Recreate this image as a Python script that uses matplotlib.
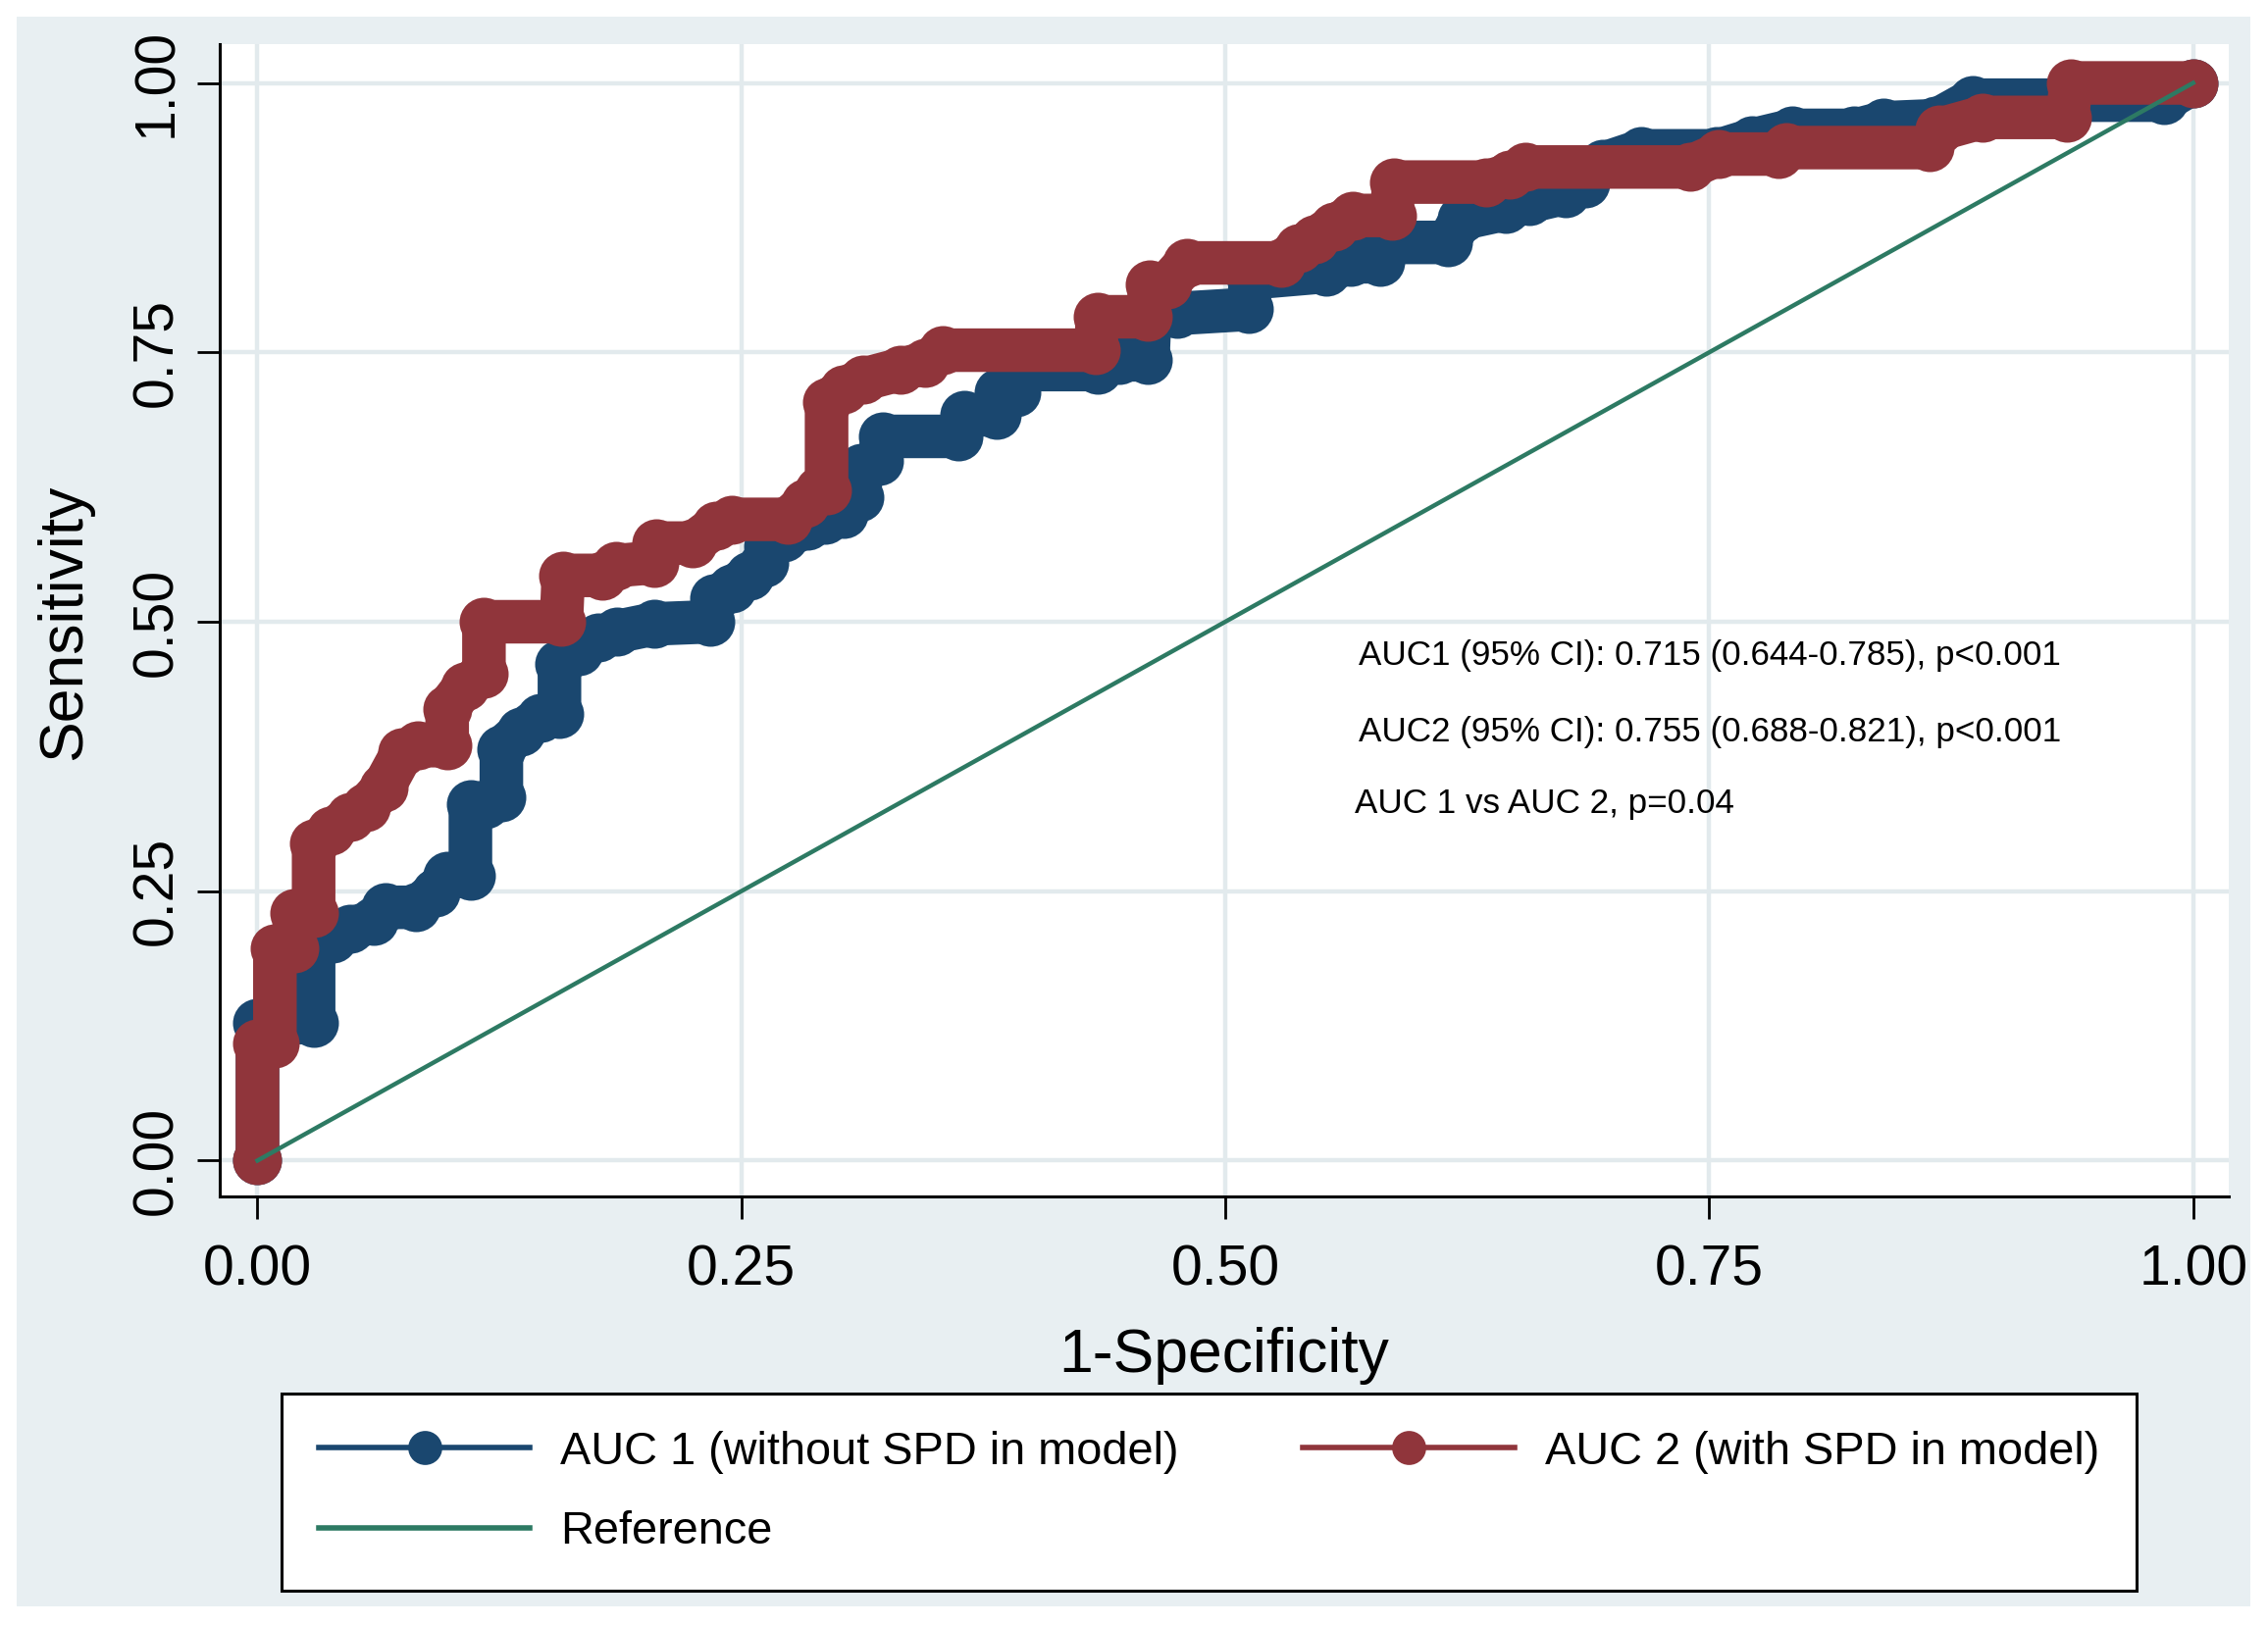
import matplotlib
matplotlib.use("Agg")
import matplotlib.pyplot as plt
from matplotlib.lines import Line2D
from matplotlib.patches import Rectangle

plt.rcParams['font.family'] = ['Liberation Sans', 'DejaVu Sans']

# ROC points (1-specificity, sensitivity)
auc1_fpr = [0.0, 0.0, 0.029, 0.029, 0.039, 0.048, 0.060, 0.066, 0.082, 0.092,
            0.098, 0.110, 0.110, 0.118, 0.126, 0.126, 0.136, 0.146, 0.156, 0.156,
            0.166, 0.176, 0.186, 0.205, 0.234, 0.236, 0.245, 0.254, 0.262, 0.264,
            0.272, 0.284, 0.293, 0.303, 0.311, 0.312, 0.321, 0.323, 0.362, 0.365,
            0.382, 0.383, 0.392, 0.393, 0.434, 0.445, 0.460, 0.461, 0.475, 0.512,
            0.513, 0.552, 0.565, 0.580, 0.581, 0.615, 0.622, 0.645, 0.657, 0.676,
            0.686, 0.695, 0.715, 0.754, 0.772, 0.793, 0.825, 0.840, 0.867, 0.886,
            0.985, 1.0]
auc1_tpr = [0.0, 0.128, 0.128, 0.206, 0.206, 0.215, 0.222, 0.235, 0.235, 0.249,
            0.264, 0.264, 0.331, 0.331, 0.337, 0.382, 0.398, 0.411, 0.414, 0.461,
            0.473, 0.485, 0.491, 0.498, 0.500, 0.522, 0.531, 0.543, 0.555, 0.570,
            0.578, 0.589, 0.595, 0.600, 0.616, 0.643, 0.649, 0.672, 0.672, 0.692,
            0.692, 0.713, 0.713, 0.734, 0.734, 0.743, 0.743, 0.786, 0.786, 0.790,
            0.819, 0.825, 0.834, 0.834, 0.852, 0.852, 0.874, 0.883, 0.890, 0.898,
            0.907, 0.925, 0.937, 0.937, 0.947, 0.956, 0.956, 0.963, 0.965, 0.984,
            0.984, 1.0]

auc2_fpr = [0.0, 0.0, 0.009, 0.009, 0.019, 0.019, 0.029, 0.029, 0.038, 0.048,
            0.056, 0.065, 0.075, 0.083, 0.098, 0.098, 0.107, 0.117, 0.117, 0.157,
            0.158, 0.178, 0.185, 0.205, 0.206, 0.225, 0.237, 0.245, 0.274, 0.283,
            0.290, 0.294, 0.294, 0.303, 0.313, 0.332, 0.345, 0.354, 0.433, 0.434,
            0.460, 0.461, 0.470, 0.480, 0.529, 0.538, 0.546, 0.556, 0.566, 0.586,
            0.587, 0.635, 0.647, 0.655, 0.740, 0.755, 0.786, 0.790, 0.864, 0.869,
            0.891, 0.935, 0.937, 1.0]
auc2_tpr = [0.0, 0.109, 0.109, 0.197, 0.197, 0.230, 0.230, 0.294, 0.306, 0.319,
            0.328, 0.346, 0.379, 0.385, 0.385, 0.419, 0.440, 0.452, 0.500, 0.500,
            0.543, 0.543, 0.552, 0.555, 0.573, 0.573, 0.589, 0.595, 0.595, 0.610,
            0.622, 0.622, 0.704, 0.716, 0.725, 0.734, 0.740, 0.752, 0.752, 0.783,
            0.783, 0.813, 0.813, 0.833, 0.833, 0.847, 0.855, 0.867, 0.877, 0.877,
            0.908, 0.908, 0.915, 0.922, 0.922, 0.934, 0.934, 0.940, 0.940, 0.957,
            0.968, 0.968, 1.0, 1.0]

ref_x = [0.0, 1.0]
ref_y = [0.0, 1.0]

ticks = [0.0, 0.25, 0.5, 0.75, 1.0]
tick_labels = ['0.00', '0.25', '0.50', '0.75', '1.00']

labels = ['AUC 1 (without SPD in model)', 'AUC 2 (with SPD in model)', 'Reference']
notes = ['AUC1 (95% CI): 0.715 (0.644-0.785), p<0.001',
         'AUC2 (95% CI): 0.755 (0.688-0.821), p<0.001',
         'AUC 1 vs AUC 2, p=0.04']

navy = '#1a476f'
maroon = '#90353b'
green = '#2d7a63'
bg = '#e8eff2'
gridc = '#e2eaed'

W, H = 2312, 1657
fig = plt.figure(figsize=(W / 200, H / 200), dpi=200, facecolor='white')
fig.patches.append(Rectangle((17 / W, 1 - 1638 / H), (2294 - 17) / W, (1638 - 17) / H,
                             transform=fig.transFigure, facecolor=bg,
                             edgecolor='none', zorder=-10))

ax = fig.add_axes([224 / W, 1 - 1220 / H, (2272 - 224) / W, (1220 - 45) / H])
ax.set_facecolor('white')
ax.set_xlim(-0.0195, 1.0184)
ax.set_ylim(-0.0333, 1.036)

# thick round-jointed path plus markers gives the dense marker band look
ax.plot(auc1_fpr, auc1_tpr, color=navy, lw=16, marker='o', ms=18, mew=0,
        solid_joinstyle='round', solid_capstyle='round', zorder=3)
ax.plot(auc2_fpr, auc2_tpr, color=maroon, lw=16, marker='o', ms=18, mew=0,
        solid_joinstyle='round', solid_capstyle='round', zorder=4)
ax.plot(ref_x, ref_y, color=green, lw=1.6, zorder=5)

ax.set_xticks(ticks)
ax.set_xticklabels(tick_labels)
ax.set_yticks(ticks)
ax.set_yticklabels(tick_labels, rotation=90, va='center')
ax.tick_params(axis='both', labelsize=20.5, length=8.3, width=1.0, color='black')
ax.tick_params(axis='x', pad=9)
ax.tick_params(axis='y', pad=5)
ax.grid(True, color=gridc, lw=1.6, zorder=0)
ax.set_axisbelow(True)
for s in ['top', 'right']:
    ax.spines[s].set_visible(False)
for s in ['left', 'bottom']:
    ax.spines[s].set_linewidth(1.1)
    ax.spines[s].set_color('black')

fig.text(0.5 * (224 + 2272) / W, 1 - 1382 / H, '1-Specificity',
         fontsize=22.5, ha='center', va='center')
fig.text(66 / W, 1 - 634 / H, 'Sensitivity', fontsize=22.5, rotation=90,
         ha='center', va='center')

ax.text(0.569, 0.469, notes[0], fontsize=12.6, va='center', ha='left')
ax.text(0.569, 0.398, notes[1], fontsize=12.6, va='center', ha='left')
ax.text(0.567, 0.331, notes[2], fontsize=12.6, va='center', ha='left')

h1 = Line2D([], [], color=navy, lw=2.0, marker='o', ms=12.5, mew=0)
h2 = Line2D([], [], color=maroon, lw=2.0, marker='o', ms=12.5, mew=0)
h3 = Line2D([], [], color=green, lw=2.0)
leg = fig.legend([h1, h3, h2], [labels[0], labels[2], labels[1]], ncol=2,
                 loc='upper left', bbox_to_anchor=(287 / W, 1 - 1421 / H),
                 fontsize=16.9, handlelength=4.6, handletextpad=0.65,
                 columnspacing=2.7, labelspacing=0.8, borderpad=0.8,
                 borderaxespad=0, fancybox=False, frameon=True)
leg.get_frame().set_edgecolor('black')
leg.get_frame().set_linewidth(1.1)
leg.get_frame().set_facecolor('white')
leg.get_frame().set_alpha(1)

fig.savefig('out.png', dpi=200, facecolor='white')
